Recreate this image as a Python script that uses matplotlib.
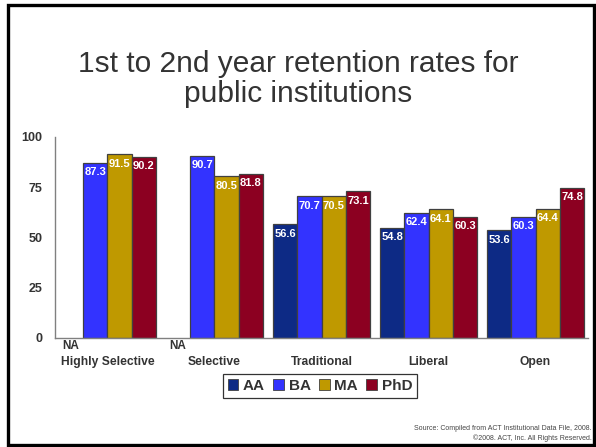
import matplotlib
matplotlib.use('Agg')
import matplotlib.pyplot as plt
import matplotlib.patches as patches
import numpy as np

plt.rcParams['font.family'] = ['Liberation Sans', 'DejaVu Sans']

categories = ['Highly Selective', 'Selective', 'Traditional', 'Liberal', 'Open']
series = ['AA', 'BA', 'MA', 'PhD']
aa = [None, None, 56.6, 54.8, 53.6]
ba = [87.3, 90.7, 70.7, 62.4, 60.3]
ma = [91.5, 80.5, 70.5, 64.1, 64.4]
phd = [90.2, 81.8, 73.1, 60.3, 74.8]
colors = ['#0d2a85', '#3333ff', '#bf9900', '#8c0021']
yticks = [0, 25, 50, 75, 100]

fig = plt.figure(figsize=(5.96, 4.47), dpi=100)

# slide frame
fig.patches.append(patches.Rectangle((8 / 596, 1 - 445 / 447), 586 / 596, 440 / 447,
                                     transform=fig.transFigure, fill=False,
                                     edgecolor='black', linewidth=2.4))

fig.text(0.5, 1 - 64 / 447, '1st to 2nd year retention rates for',
         ha='center', va='center', fontsize=21.5, color='#333333')
fig.text(0.5, 1 - 94 / 447, 'public institutions',
         ha='center', va='center', fontsize=21.5, color='#333333')

ax = fig.add_axes([55 / 596, 1 - 338 / 447, 533 / 596, 201 / 447])

x = np.arange(len(categories))
w = 0.227
offsets = (np.arange(4) - 1.5) * w
for vals, off, col in zip([aa, ba, ma, phd], offsets, colors):
    for xi, v in zip(x, vals):
        if v is None:
            ax.text(xi + off, -0.8, 'NA', ha='center', va='top', fontsize=8.5,
                    fontweight='bold', color='#333333')
            continue
        ax.bar(xi + off, v, w, color=col, edgecolor='#404040', linewidth=0.9)
        ax.text(xi + off, v - 2.3, f'{v:.1f}', ha='center', va='top', fontsize=8,
                fontweight='bold', color='white')

ax.set_xlim(-0.49, 4.49)
ax.set_ylim(0, 100)
ax.set_yticks(yticks)
ax.set_yticklabels([str(t) for t in yticks], fontsize=9, fontweight='bold', color='#333333')
ax.set_xticks(x)
ax.set_xticklabels(categories, fontsize=8.7, fontweight='bold', color='#333333')
ax.tick_params(axis='y', length=0, pad=9)
ax.tick_params(axis='x', length=0, pad=13)
for s in ['top', 'right']:
    ax.spines[s].set_visible(False)
for s in ['left', 'bottom']:
    ax.spines[s].set_color('#808080')
    ax.spines[s].set_linewidth(1)

handles = [patches.Patch(facecolor=c, edgecolor='#404040', linewidth=0.6) for c in colors]
leg = fig.legend(handles, series, loc='center', bbox_to_anchor=(320 / 596, 1 - 386 / 447),
                 ncol=4, frameon=True, fancybox=False, handlelength=0.7, handleheight=0.7,
                 handletextpad=0.3, columnspacing=0.55, borderpad=0.3,
                 prop={'weight': 'bold', 'size': 11})
leg.get_frame().set_edgecolor('black')
leg.get_frame().set_linewidth(0.9)
for t in leg.get_texts():
    t.set_color('#333333')

fig.text(592 / 596, 1 - 429 / 447, 'Source: Compiled from ACT Institutional Data File, 2008.',
         ha='right', va='center', fontsize=5, color='#444444')
fig.text(592 / 596, 1 - 438 / 447, '\u00a92008. ACT, Inc. All Rights Reserved.',
         ha='right', va='center', fontsize=5, color='#444444')

fig.savefig('out.png', dpi=100)
